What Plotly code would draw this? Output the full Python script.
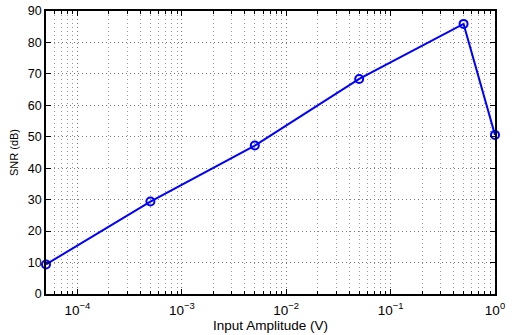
import plotly.graph_objects as go
import math

amplitude = [5e-5, 5e-4, 5e-3, 5e-2, 5e-1, 1.0]
snr_db = [9.4, 29.4, 47.2, 68.4, 85.9, 50.6]
xtick_vals = [1e-4, 1e-3, 1e-2, 1e-1, 1e0]
xtick_text = ["10<sup>−4</sup>", "10<sup>−3</sup>", "10<sup>−2</sup>", "10<sup>−1</sup>", "10<sup>0</sup>"]
ytick_vals = list(range(0, 91, 10))

minor_vals = [m * 10.0 ** d for d in range(-5, 0) for m in range(2, 10)]
minor_vals = [v for v in minor_vals if v >= 5e-5]

fig = go.Figure()
fig.add_trace(go.Scatter(
    x=amplitude, y=snr_db, mode="lines+markers",
    line=dict(color="#0000ff", width=2),
    marker=dict(symbol="circle-open", size=8, color="#0000ff", line=dict(width=2)),
    cliponaxis=False,
))

fam = "Liberation Sans, Arial, sans-serif"
font = dict(family=fam, size=12, color="black")
fig.update_layout(
    width=514, height=335,
    margin=dict(l=46, r=19, t=11, b=41),
    paper_bgcolor="white", plot_bgcolor="white",
    showlegend=False, font=font,
)
dash = "1px,3px"
fig.update_xaxes(
    type="log", range=[math.log10(5e-5), 0], automargin=False,
    tickmode="array", tickvals=xtick_vals, ticktext=xtick_text,
    tickfont=dict(family=fam, size=13.5, color="black"),
    ticklabelstandoff=3,
    ticks="inside", ticklen=5, tickcolor="black",
    showline=True, linecolor="black", linewidth=1.5, mirror="ticks",
    showgrid=True, gridcolor="#777777", griddash=dash, gridwidth=1,
    minor=dict(tickmode="array", tickvals=minor_vals, ticks="inside", ticklen=3,
               tickcolor="black", showgrid=True,
               gridcolor="#999999", griddash=dash, gridwidth=1),
    zeroline=False,
    title=dict(text="Input Amplitude (V)", standoff=0,
               font=dict(family=fam, size=13.5, color="black")),
)
fig.update_yaxes(
    range=[0, 90], tickvals=ytick_vals, automargin=False,
    tickfont=dict(family=fam, size=12.5, color="black"),
    ticks="inside", ticklen=5, tickcolor="black",
    showline=True, linecolor="black", linewidth=1.5, mirror="ticks",
    showgrid=True, gridcolor="#777777", griddash=dash, gridwidth=1,
    zeroline=False,
    title=dict(text="SNR (dB)", standoff=7,
               font=dict(family=fam, size=11, color="black")),
)
fig.write_html("out.html")
